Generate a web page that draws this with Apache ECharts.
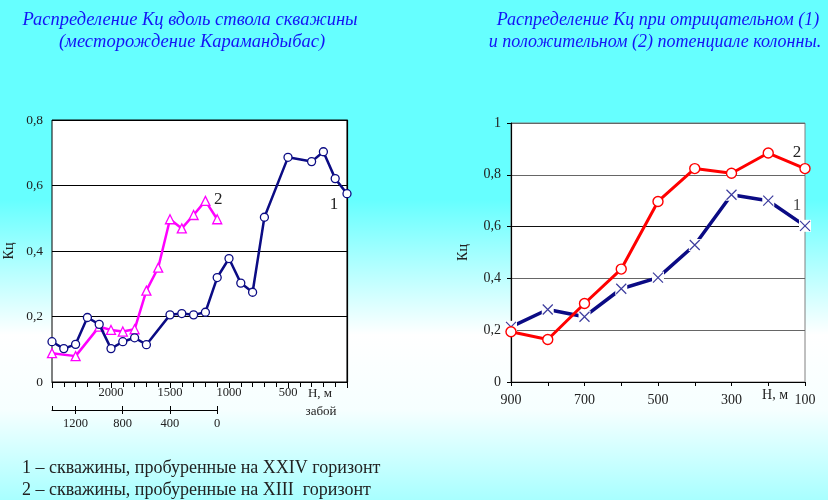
<!DOCTYPE html>
<html>
<head>
<meta charset="utf-8">
<script src="https://cdn.jsdelivr.net/npm/echarts@6/dist/echarts.min.js"></script>
<style>
  html, body { margin: 0; padding: 0; }
  #chart {
    width: 828px; height: 500px;
    background: linear-gradient(to bottom, #66ffff 0%, #66ffff 40%, #ffffff 67%, #f6ffff 82%, #a8ffff 100%);
  }
</style>
</head>
<body>
<div id="chart"></div>
<script>
// Left panel: Kc along the wellbore, depth H (m)
const wellDepth1 = [2500, 2400, 2300, 2200, 2100, 2000, 1900, 1800, 1700, 1500, 1400, 1300, 1200, 1100, 1000, 900, 800, 700, 500, 300, 200, 100, 0];
const wellKc1    = [0.123, 0.102, 0.115, 0.197, 0.176, 0.102, 0.123, 0.135, 0.114, 0.205, 0.209, 0.205, 0.213, 0.319, 0.377, 0.302, 0.274, 0.503, 0.686, 0.673, 0.703, 0.621, 0.575];
const wellDepth2 = [2500, 2300, 2100, 2000, 1900, 1800, 1700, 1600, 1500, 1400, 1300, 1200, 1100];
const wellKc2    = [0.088, 0.079, 0.169, 0.159, 0.154, 0.161, 0.279, 0.349, 0.497, 0.469, 0.510, 0.553, 0.497];

// Right panel: Kc at negative (1) and positive (2) casing potential
const potDepth   = [900, 800, 700, 600, 500, 400, 300, 200, 100];
const kcNegative = [0.213, 0.280, 0.252, 0.360, 0.403, 0.529, 0.723, 0.700, 0.603];
const kcPositive = [0.194, 0.164, 0.303, 0.436, 0.697, 0.824, 0.806, 0.884, 0.824];

// Tick labels
const leftDepthLabels   = [2000, 1500, 1000, 500];
const bottomholeLabels  = [1200, 800, 400, 0];
const rightDepthLabels  = [900, 700, 500, 300, 100];

const NAVY = '#0b0b84';
const SERIF = 'Liberation Serif';
const TXT = '#222';

const comma = v => String(+v.toFixed(1)).replace('.', ',');

function points(xs, ys, lastLabel) {
  return xs.map((x, i) => {
    const item = { value: [x, ys[i]] };
    if (lastLabel && i === xs.length - 1) item.label = lastLabel;
    return item;
  });
}
function endLabel(text, offset) {
  return { show: true, formatter: text, position: 'inside', offset: offset,
           color: TXT, fontFamily: SERIF, fontSize: 17 };
}

const chart = echarts.init(document.getElementById('chart'), null, { renderer: 'canvas' });

const font = size => ({ fontFamily: SERIF, fontSize: size, color: TXT });

chart.setOption({
  backgroundColor: 'transparent',
  animation: false,
  grid: [
    { left: 52, top: 120, width: 295, height: 262, show: true, backgroundColor: '#fff', borderColor: '#000', borderWidth: 1 },
    { left: 511, top: 123, width: 294, height: 259, show: true, backgroundColor: '#fff', borderColor: '#808080', borderWidth: 1 },
    { left: 52, top: 409, width: 165, height: 1, show: false }
  ],
  xAxis: [
    { // depth H, left panel
      type: 'value', gridIndex: 0, min: 0, max: 2500, interval: 500, inverse: true,
      axisLine: { lineStyle: { color: '#000', width: 1.2 } },
      axisTick: { length: 6, lineStyle: { color: '#000' } },
      minorTick: { show: true, splitNumber: 5, length: 5, lineStyle: { color: '#000' } },
      splitLine: { show: false },
      axisLabel: Object.assign({ margin: 4, formatter: v => leftDepthLabels.includes(v) ? String(v) : '' }, font(12.5))
    },
    { // depth H, right panel
      type: 'value', gridIndex: 1, min: 100, max: 900, interval: 100, inverse: true,
      axisLine: { lineStyle: { color: '#000', width: 1.2 } },
      axisTick: { length: 4, lineStyle: { color: '#000' } },
      splitLine: { show: false },
      axisLabel: Object.assign({ margin: 11, showMinLabel: true, showMaxLabel: true,
        formatter: v => rightDepthLabels.includes(v) ? String(v) : '' }, font(14))
    },
    { // bottomhole distance scale, ticks down with labels
      type: 'value', gridIndex: 2, min: 0, max: 1400, interval: 400, inverse: true, position: 'bottom',
      axisLine: { lineStyle: { color: '#000', width: 1 } },
      axisTick: { length: 4, lineStyle: { color: '#000' } },
      splitLine: { show: false },
      axisLabel: Object.assign({ margin: 7, showMaxLabel: false,
        formatter: v => bottomholeLabels.includes(v) ? String(v) : '' }, font(12.5))
    },
    { // bottomhole distance scale, ticks up
      type: 'value', gridIndex: 2, min: 0, max: 1400, interval: 400, inverse: true, position: 'bottom', offset: 0,
      axisLine: { show: false },
      axisTick: { inside: true, length: 4, lineStyle: { color: '#000' } },
      splitLine: { show: false },
      axisLabel: { show: false }
    }
  ],
  yAxis: [
    {
      type: 'value', gridIndex: 0, min: 0, max: 0.8, interval: 0.2,
      name: 'Кц', nameLocation: 'middle', nameGap: 36,
      nameTextStyle: font(14),
      axisLine: { show: true, lineStyle: { color: '#000', width: 1.2 } },
      axisTick: { show: true, length: 5, lineStyle: { color: '#000' } },
      splitLine: { show: true, lineStyle: { color: '#000', width: 1 } },
      axisLabel: Object.assign({ margin: 9, formatter: comma }, font(13.5))
    },
    {
      type: 'value', gridIndex: 1, min: 0, max: 1, interval: 0.2,
      name: 'Кц', nameLocation: 'middle', nameGap: 41,
      nameTextStyle: font(14),
      axisLine: { show: true, lineStyle: { color: '#000', width: 1.2 } },
      axisTick: { show: true, length: 4, lineStyle: { color: '#000' } },
      splitLine: { show: true, lineStyle: { color: ['#000', '#666', '#666', '#111', '#666', '#666'], width: 1 } },
      axisLabel: Object.assign({ margin: 10, formatter: comma }, font(14))
    },
    { type: 'value', gridIndex: 2, min: 0, max: 1, show: false }
  ],
  series: [
    {
      type: 'line', xAxisIndex: 0, yAxisIndex: 0, z: 3,
      data: points(wellDepth2, wellKc2, endLabel('2', [1, -20])),
      symbol: 'triangle', symbolSize: 9,
      lineStyle: { color: '#ff00ff', width: 2.5 },
      itemStyle: { color: '#fff', borderColor: '#ff00ff', borderWidth: 1.3 }
    },
    {
      type: 'line', xAxisIndex: 0, yAxisIndex: 0, z: 4,
      data: points(wellDepth1, wellKc1, endLabel('1', [-13, 11])),
      symbol: 'circle', symbolSize: 8,
      lineStyle: { color: NAVY, width: 2.5 },
      itemStyle: { color: '#fff', borderColor: NAVY, borderWidth: 1.3 }
    },
    { // negative potential: line with white square backing for the crosses
      type: 'line', xAxisIndex: 1, yAxisIndex: 1, z: 3,
      data: points(potDepth, kcNegative),
      symbol: 'rect', symbolSize: 12,
      lineStyle: { color: NAVY, width: 3.5 },
      itemStyle: { color: '#fff', borderWidth: 0 }
    },
    {
      type: 'scatter', xAxisIndex: 1, yAxisIndex: 1, z: 4,
      data: points(potDepth, kcNegative, endLabel('1', [-8, -20])),
      symbol: 'path://M0,0L10,10M10,0L0,10', symbolSize: 10,
      itemStyle: { color: 'none', borderColor: NAVY, borderWidth: 1.2 }
    },
    {
      type: 'line', xAxisIndex: 1, yAxisIndex: 1, z: 5,
      data: points(potDepth, kcPositive, endLabel('2', [-8, -16])),
      symbol: 'circle', symbolSize: 10,
      lineStyle: { color: '#ff0000', width: 3 },
      itemStyle: { color: '#fff', borderColor: '#ff0000', borderWidth: 1.4 }
    }
  ],
  graphic: [
    { type: 'text', x: 190, y: 20, style: { text: 'Распределение Кц вдоль ствола скважины', align: 'center', verticalAlign: 'middle', font: 'italic 18.5px "Liberation Serif"', fill: '#1414f5' } },
    { type: 'text', x: 192, y: 42, style: { text: '(месторождение Карамандыбас)', align: 'center', verticalAlign: 'middle', font: 'italic 18.5px "Liberation Serif"', fill: '#1414f5' } },
    { type: 'text', x: 658, y: 20, style: { text: 'Распределение Кц при отрицательном (1)', align: 'center', verticalAlign: 'middle', font: 'italic 18px "Liberation Serif"', fill: '#1414f5' } },
    { type: 'text', x: 655, y: 42, style: { text: 'и положительном (2) потенциале колонны.', align: 'center', verticalAlign: 'middle', font: 'italic 18px "Liberation Serif"', fill: '#1414f5' } },
    { type: 'text', x: 320, y: 394, style: { text: 'H, м', align: 'center', verticalAlign: 'middle', font: '13px "Liberation Serif"', fill: TXT } },
    { type: 'text', x: 321, y: 412, style: { text: 'забой', align: 'center', verticalAlign: 'middle', font: '13px "Liberation Serif"', fill: TXT } },
    { type: 'text', x: 775, y: 395, style: { text: 'H, м', align: 'center', verticalAlign: 'middle', font: '14px "Liberation Serif"', fill: TXT } },
    { type: 'text', x: 22, y: 468, style: { text: '1 – скважины, пробуренные на XXIV горизонт', align: 'left', verticalAlign: 'middle', font: '18px "Liberation Serif"', fill: TXT } },
    { type: 'text', x: 22, y: 490, style: { text: '2 – скважины, пробуренные на XIII  горизонт', align: 'left', verticalAlign: 'middle', font: '18px "Liberation Serif"', fill: TXT } }
  ]
});
</script>
</body>
</html>
